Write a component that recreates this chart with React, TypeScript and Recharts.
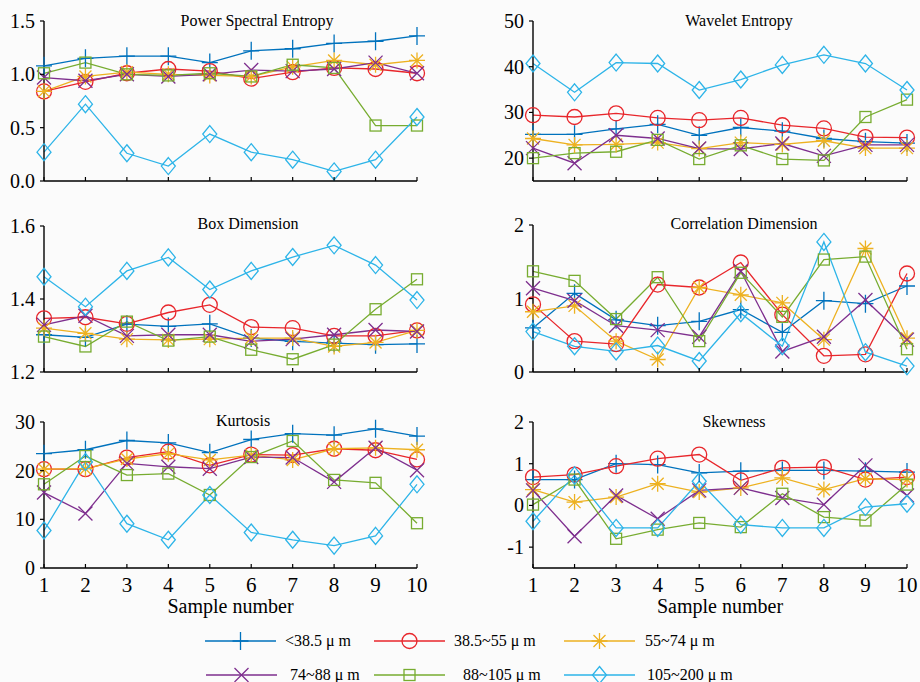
import React from "react";
import { LineChart, Line, XAxis, YAxis } from "recharts";

const samples = [1, 2, 3, 4, 5, 6, 7, 8, 9, 10];
const sizeClasses = ["<38.5 μ m", "38.5~55 μ m", "55~74 μ m", "74~88 μ m", "88~105 μ m", "105~200 μ m"];

// one row per size class, same order as sizeClasses
const powerSpectralEntropy = [
  [1.08, 1.15, 1.17, 1.17, 1.11, 1.22, 1.24, 1.29, 1.31, 1.36],
  [0.84, 0.93, 1.01, 1.05, 1.03, 0.96, 1.02, 1.06, 1.05, 1.01],
  [0.84, 0.98, 1.02, 1.0, 0.99, 0.98, 1.07, 1.13, 1.09, 1.13],
  [0.97, 0.94, 1.0, 0.98, 1.0, 1.04, 1.03, 1.05, 1.11, 1.01],
  [1.01, 1.11, 1.0, 0.99, 1.01, 0.98, 1.09, 1.06, 0.52, 0.52],
  [0.27, 0.72, 0.26, 0.14, 0.44, 0.27, 0.2, 0.09, 0.2, 0.6],
];

const waveletEntropy = [
  [25.2, 25.2, 26.4, 27.4, 25.0, 26.7, 25.9, 24.3, 23.6, 23.3],
  [29.4, 29.0, 29.8, 28.8, 28.3, 28.8, 27.2, 26.5, 24.6, 24.5],
  [24.3, 22.9, 23.0, 23.4, 22.1, 23.4, 23.0, 23.8, 22.2, 22.2],
  [22.2, 18.9, 25.0, 24.3, 22.1, 22.0, 23.2, 20.5, 22.9, 22.9],
  [20.0, 21.1, 21.4, 24.0, 19.8, 22.8, 19.8, 19.5, 29.0, 32.8],
  [40.7, 34.4, 40.9, 40.7, 34.9, 37.2, 40.4, 42.6, 40.7, 34.9],
];

const boxDimension = [
  [1.302, 1.295, 1.331, 1.325, 1.332, 1.293, 1.284, 1.279, 1.275, 1.277],
  [1.347, 1.35, 1.332, 1.363, 1.384, 1.323, 1.32, 1.299, 1.299, 1.314],
  [1.32, 1.306, 1.29, 1.288, 1.29, 1.293, 1.293, 1.27, 1.281, 1.314],
  [1.329, 1.354, 1.299, 1.302, 1.302, 1.284, 1.29, 1.302, 1.315, 1.311],
  [1.297, 1.27, 1.338, 1.286, 1.297, 1.261, 1.235, 1.275, 1.372, 1.454],
  [1.461, 1.379, 1.477, 1.514, 1.426, 1.477, 1.515, 1.547, 1.493, 1.397],
];

const correlationDimension = [
  [0.6, 1.07, 0.71, 0.63, 0.69, 0.85, 0.54, 0.97, 0.93, 1.17],
  [0.92, 0.42, 0.38, 1.19, 1.15, 1.49, 0.78, 0.22, 0.24, 1.34],
  [0.82, 0.9, 0.42, 0.17, 1.15, 1.05, 0.94, 0.44, 1.68, 0.46],
  [1.14, 0.97, 0.63, 0.57, 0.48, 1.37, 0.28, 0.48, 0.98, 0.44],
  [1.37, 1.24, 0.72, 1.29, 0.42, 1.35, 0.75, 1.53, 1.57, 0.31],
  [0.55, 0.35, 0.28, 0.36, 0.15, 0.8, 0.35, 1.77, 0.27, 0.08],
];

const kurtosis = [
  [23.5, 24.3, 26.2, 25.7, 23.7, 26.4, 27.6, 27.3, 28.6, 27.1],
  [20.3, 20.3, 22.7, 23.9, 21.1, 23.3, 23.2, 24.5, 24.2, 22.3],
  [20.3, 20.4, 22.4, 23.5, 22.2, 23.2, 22.2, 24.5, 24.7, 24.3],
  [15.5, 11.2, 21.5, 20.8, 20.4, 22.8, 22.7, 17.7, 24.7, 20.1],
  [17.2, 23.0, 19.1, 19.4, 15.0, 22.8, 26.1, 18.1, 17.5, 9.2],
  [7.7, 21.8, 9.1, 5.8, 15.0, 7.3, 5.8, 4.6, 6.6, 17.2],
];

const skewness = [
  [0.62, 0.62, 1.0, 0.98, 0.78, 0.82, 0.84, 0.84, 0.82, 0.8],
  [0.68, 0.74, 0.94, 1.12, 1.22, 0.6, 0.9, 0.92, 0.62, 0.68],
  [0.38, 0.08, 0.2, 0.52, 0.32, 0.42, 0.66, 0.38, 0.64, 0.62],
  [0.36, -0.74, 0.24, -0.32, 0.36, 0.42, 0.18, 0.02, 0.96, 0.24],
  [0.02, 0.62, -0.8, -0.58, -0.42, -0.52, 0.28, -0.28, -0.36, 0.5],
  [-0.38, 0.72, -0.54, -0.54, 0.58, -0.46, -0.54, -0.54, -0.04, 0.04],
];

const pseTicks = [0, 0.5, 1, 1.5];
const weTicks = [20, 30, 40, 50];
const bdTicks = [1.2, 1.4, 1.6];
const cdTicks = [0, 1, 2];
const kuTicks = [0, 10, 20, 30];
const skTicks = [-1, 0, 1, 2];

const colors = ["#0072BD", "#E8262B", "#EDB120", "#7E2F8E", "#77AC30", "#2DB4E8"];
const markers = ["plus", "circle", "star", "cross", "square", "diamond"];
const FONT = '"Liberation Serif", "Times New Roman", serif';

const Marker = ({ kind, cx, cy, color }: any) => {
  const common = { stroke: color, strokeWidth: 1.3, fill: "none" };
  switch (kind) {
    case "plus":
      return <path {...common} d={`M${cx - 8},${cy}H${cx + 8}M${cx},${cy - 9}V${cy + 9}`} />;
    case "circle":
      return <circle {...common} cx={cx} cy={cy} r={7.5} />;
    case "star":
      return (
        <path
          {...common}
          d={`M${cx - 8},${cy}H${cx + 8}M${cx},${cy - 8}V${cy + 8}M${cx - 6},${cy - 6}L${cx + 6},${cy + 6}M${cx - 6},${cy + 6}L${cx + 6},${cy - 6}`}
        />
      );
    case "cross":
      return <path {...common} d={`M${cx - 7},${cy - 7}L${cx + 7},${cy + 7}M${cx - 7},${cy + 7}L${cx + 7},${cy - 7}`} />;
    case "square":
      return <rect {...common} x={cx - 5.5} y={cy - 5.5} width={11} height={11} />;
    default:
      return <path {...common} d={`M${cx},${cy - 8.5}L${cx + 7},${cy}L${cx},${cy + 8.5}L${cx - 7},${cy}Z`} />;
  }
};

const YTick = ({ x, y, payload, decimals }: any) => (
  <g>
    <line x1={x - 4} x2={x} y1={y} y2={y} stroke="#000" strokeWidth={1.2} />
    <text x={x - 9} y={y} dy="0.35em" textAnchor="end" fontSize={20} style={{ fontFamily: FONT }} fill="#000">
      {Number(payload.value).toFixed(decimals)}
    </text>
  </g>
);

const XTick = ({ x, y, payload, showLabel }: any) => (
  <g>
    <line x1={x} x2={x} y1={y} y2={y - 4} stroke="#000" strokeWidth={1.2} />
    {showLabel && (
      <text x={x} y={y + 24} textAnchor="middle" fontSize={21} style={{ fontFamily: FONT }} fill="#000">
        {payload.value}
      </text>
    )}
  </g>
);

const textBox = (left: number, top: number, size: number): React.CSSProperties => ({
  position: "absolute",
  left,
  top,
  transform: "translateX(-50%)",
  whiteSpace: "nowrap",
  fontFamily: FONT,
  fontSize: size,
  lineHeight: size + "px",
  color: "#000",
});

const Panel = ({ values, title, titleX, titleY, domain, ticks, decimals, left, top, height, marginTop, marginRight, yWidth, xHeight, showLabels }: any) => {
  const data = samples.map((s, i) => {
    const row: any = { sample: s };
    values.forEach((arr: number[], k: number) => (row["s" + k] = arr[i]));
    return row;
  });
  const plotCenter = yWidth + (460 - yWidth - marginRight) / 2;
  return (
    <div style={{ position: "absolute", left, top }}>
      <LineChart width={460} height={height} data={data} margin={{ top: marginTop, right: marginRight, bottom: 0, left: 0 }}>
        <XAxis
          dataKey="sample"
          type="number"
          domain={[1, 10]}
          ticks={samples}
          interval={0}
          height={xHeight}
          tickSize={0}
          tickMargin={0}
          tickLine={false}
          axisLine={{ stroke: "#000", strokeWidth: 1.4 }}
          tick={(p: any) => <XTick {...p} showLabel={showLabels} />}
        />
        <YAxis
          type="number"
          domain={domain}
          ticks={ticks}
          interval={0}
          width={yWidth}
          tickSize={0}
          tickMargin={0}
          tickLine={false}
          axisLine={{ stroke: "#000", strokeWidth: 1.4 }}
          tick={(p: any) => <YTick {...p} decimals={decimals} />}
        />
        {values.map((_: any, k: number) => (
          <Line
            key={k}
            dataKey={"s" + k}
            stroke={colors[k]}
            strokeWidth={1.3}
            isAnimationActive={false}
            dot={(p: any) => <Marker key={p.index} kind={markers[k]} cx={p.cx} cy={p.cy} color={colors[k]} />}
            activeDot={false}
          />
        ))}
      </LineChart>
      <div style={textBox(titleX, titleY - 13, 16)}>{title}</div>
      {showLabels && <div style={textBox(plotCenter, 196, 20)}>Sample number</div>}
    </div>
  );
};

const legendSlots = [
  { x: 205, y: 21, tx: 285 },
  { x: 374, y: 21, tx: 454 },
  { x: 564, y: 21, tx: 645 },
  { x: 206, y: 55, tx: 290 },
  { x: 374, y: 55, tx: 463 },
  { x: 564, y: 55, tx: 647 },
];

const Legend = () => (
  <svg width={920} height={62} style={{ position: "absolute", left: 0, top: 620 }}>
    {sizeClasses.map((name, k) => {
      const s = legendSlots[k];
      return (
        <g key={name}>
          <line x1={s.x} x2={s.x + 71} y1={s.y} y2={s.y} stroke={colors[k]} strokeWidth={1.3} />
          <Marker kind={markers[k]} cx={s.x + 35.5} cy={s.y} color={colors[k]} />
          <text x={s.tx} y={s.y + 5} fontSize={16} style={{ fontFamily: FONT }} fill="#000">
            {name}
          </text>
        </g>
      );
    })}
  </svg>
);

export default function App() {
  return (
    <div style={{ position: "absolute", left: 0, top: 0, width: 920, height: 682, background: "#fbfbfb", overflow: "hidden" }}>
      <Panel values={powerSpectralEntropy} title="Power Spectral Entropy" titleX={257} titleY={26} domain={[0, 1.5]} ticks={pseTicks} decimals={1}
        left={0} top={0} height={200} marginTop={21} marginRight={43} yWidth={44} xHeight={19} showLabels={false} />
      <Panel values={waveletEntropy} title="Wavelet Entropy" titleX={279} titleY={26} domain={[15, 50]} ticks={weTicks} decimals={0}
        left={460} top={0} height={200} marginTop={21} marginRight={13} yWidth={73} xHeight={19} showLabels={false} />
      <Panel values={boxDimension} title="Box Dimension" titleX={248} titleY={29} domain={[1.2, 1.6]} ticks={bdTicks} decimals={1}
        left={0} top={200} height={200} marginTop={26} marginRight={43} yWidth={44} xHeight={28} showLabels={false} />
      <Panel values={correlationDimension} title="Correlation Dimension" titleX={284} titleY={29} domain={[0, 2]} ticks={cdTicks} decimals={0}
        left={460} top={200} height={200} marginTop={25} marginRight={13} yWidth={73} xHeight={28} showLabels={false} />
      <Panel values={kurtosis} title="Kurtosis" titleX={243} titleY={26} domain={[0, 30]} ticks={kuTicks} decimals={0}
        left={0} top={400} height={220} marginTop={22} marginRight={43} yWidth={44} xHeight={52} showLabels={true} />
      <Panel values={skewness} title="Skewness" titleX={274} titleY={27} domain={[-1.5, 2]} ticks={skTicks} decimals={0}
        left={460} top={400} height={220} marginTop={22} marginRight={13} yWidth={73} xHeight={52} showLabels={true} />
      <Legend />
    </div>
  );
}
